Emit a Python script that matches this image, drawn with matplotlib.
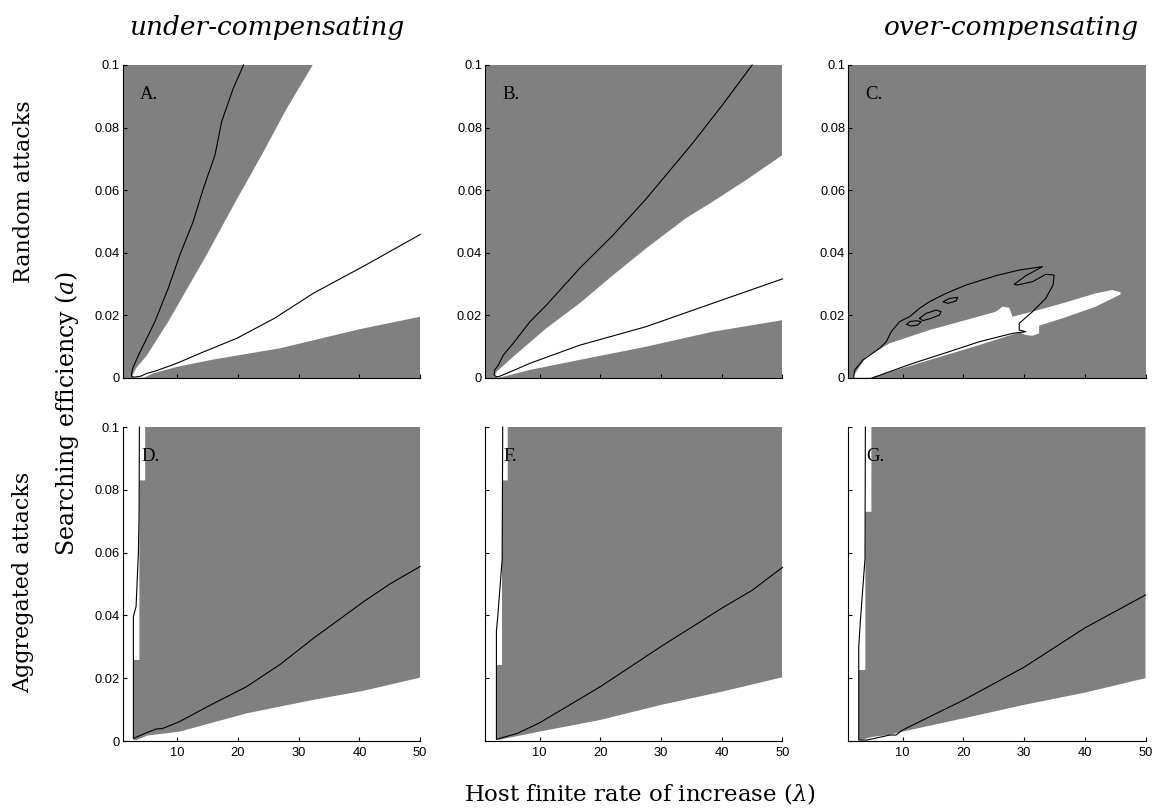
import matplotlib
matplotlib.use('Agg')
import matplotlib.pyplot as plt

plt.rcParams['mathtext.fontset'] = 'dejavuserif'

GRAY = '#808080'

# ---------------- data (lambda, a) ----------------
# Panel A: white region polygon (gray elsewhere) and black contour
A_white_lam = [2.5, 3.2, 5.0, 8.5, 14.8, 19.5, 23.9, 28.0, 32.3, 50.0, 50.0, 40.0, 26.9, 15.9, 10.0, 6.0, 4.5, 3.0]
A_white_a = [0.0003, 0.003, 0.0072, 0.0179, 0.0392, 0.056, 0.0712, 0.086, 0.1, 0.1, 0.0195, 0.0155, 0.0094, 0.0058, 0.0035, 0.0014, 0.0, 0.0]
A_line_lam = [20.9, 19.2, 17.3, 16.2, 14.3, 12.6, 10.4, 8.5, 6.3, 3.6, 2.65, 2.45, 2.5, 3.0, 4.0, 5.0, 6.5, 9.9, 14.0, 19.8, 26.0, 32.4, 41.0, 50.0]
A_line_a = [0.1, 0.0925, 0.0819, 0.0712, 0.0606, 0.0499, 0.0392, 0.0286, 0.0179, 0.0072, 0.003, 0.001, 0.0003, 0.0002, 0.0005, 0.0014, 0.0022, 0.0046, 0.0080, 0.0126, 0.019, 0.027, 0.036, 0.0458]

# Panel B
B_white_lam = [2.6, 2.9, 5.65, 11.1, 16.6, 22.1, 27.5, 34.1, 38.5, 44.0, 50.0, 50.0, 38.5, 27.5, 16.6, 8.4, 4.6, 3.2]
B_white_a = [0.0005, 0.0019, 0.0067, 0.0158, 0.0238, 0.0328, 0.0413, 0.051, 0.0563, 0.0632, 0.0712, 0.0184, 0.0147, 0.0099, 0.0057, 0.0025, 0.0006, 0.0]
B_line_lam = [45.0, 40.1, 35.2, 27.5, 22.1, 16.6, 11.1, 8.4, 5.65, 4.0, 3.2, 2.6, 2.5, 2.8, 3.2, 4.6, 8.4, 16.6, 27.5, 38.5, 50.0]
B_line_a = [0.1, 0.0872, 0.075, 0.0571, 0.0456, 0.035, 0.0232, 0.0179, 0.011, 0.0072, 0.004, 0.0025, 0.0009, 0.0004, 0.0003, 0.0014, 0.0046, 0.0104, 0.0163, 0.0238, 0.0316]

# Panel C
C_white_lam = [1.82, 4.01, 7.84, 14.41, 20.44, 25.36, 26.46, 27.55, 28.10, 31.39, 36.31, 41.79, 44.53, 45.89,
               45.89, 41.79, 36.31, 32.48, 32.48, 31.39, 30.29, 29.20, 22.63, 17.15, 11.68, 6.20, 4.56, 1.82]
C_white_a = [0.00032, 0.00672, 0.01098, 0.01524, 0.01844, 0.02111, 0.02271, 0.02239, 0.01951, 0.02111, 0.02377, 0.02697, 0.02804, 0.02729,
             0.02665, 0.02271, 0.01898, 0.01663, 0.01418, 0.01343, 0.01365, 0.01450, 0.01045, 0.00725, 0.00405, 0.00085, 0.0, 0.0]
C_line_lam = [1.93, 2.10, 3.46, 6.20, 7.30, 8.12, 9.49, 11.13, 12.77, 14.41, 17.15, 20.44, 25.36, 29.20, 33.03, 30.29, 28.37,
              28.92, 31.39, 33.58, 34.95, 34.78, 33.58, 31.39, 29.20, 29.20, 30.29, 28.10, 22.63, 17.15, 11.68, 7.84, 5.11]
C_line_a = [0.0, 0.00245, 0.00565, 0.00938, 0.01151, 0.01471, 0.01791, 0.01951, 0.02217, 0.02431, 0.02697, 0.02964, 0.03262, 0.03444, 0.03550, 0.03262, 0.02985,
            0.02964, 0.03070, 0.03305, 0.03284, 0.02964, 0.02537, 0.02111, 0.01738, 0.01524, 0.01471, 0.01418, 0.01151, 0.00800, 0.00458, 0.00192, 0.0]
C_loop1_lam = [10.69, 11.13, 12.22, 13.05, 12.50, 11.40, 10.69]
C_loop1_a = [0.01706, 0.01791, 0.01823, 0.01791, 0.01684, 0.01652, 0.01706]
C_loop2_lam = [12.77, 13.87, 15.51, 16.33, 16.06, 14.69, 13.32, 12.77]
C_loop2_a = [0.01898, 0.02058, 0.02164, 0.02111, 0.02004, 0.01898, 0.01823, 0.01898]
C_loop3_lam = [16.71, 17.70, 19.07, 18.79, 17.42, 16.71]
C_loop3_a = [0.02431, 0.02537, 0.02569, 0.02452, 0.02377, 0.02431]

# Panel D: gray region polygon (white elsewhere) and contour
D_gray_lam = [2.76, 3.3, 5.0, 10.4, 21.4, 32.4, 40.7, 50.0, 50.0, 4.7, 4.7, 3.75, 3.75, 2.76]
D_gray_a = [0.0003, 0.0003, 0.0017, 0.003, 0.0088, 0.0131, 0.016, 0.0202, 0.1, 0.1, 0.083, 0.083, 0.0258, 0.0258]
D_line_lam = [3.75, 3.69, 3.58, 3.2, 2.76, 2.76, 5.0, 6.5, 7.6, 10.4, 15.0, 21.4, 27.0, 32.4, 40.7, 45.0, 50.0]
D_line_a = [0.1, 0.0705, 0.0598, 0.0428, 0.0396, 0.0008, 0.0027, 0.0038, 0.0040, 0.0062, 0.011, 0.0173, 0.0245, 0.0327, 0.0444, 0.050, 0.0556]

# Panel F
F_gray_lam = [2.88, 3.5, 4.6, 10.0, 20.0, 30.0, 40.0, 50.0, 50.0, 4.74, 4.74, 3.8, 3.8, 2.88]
F_gray_a = [0.0003, 0.0004, 0.0009, 0.003, 0.0067, 0.0115, 0.0157, 0.0203, 0.1, 0.1, 0.083, 0.083, 0.0242, 0.0242]
F_line_lam = [3.92, 3.82, 3.1, 2.88, 2.88, 3.5, 6.3, 10.0, 20.0, 30.0, 40.0, 45.0, 50.0]
F_line_a = [0.1, 0.0577, 0.0396, 0.035, 0.0005, 0.0009, 0.0024, 0.0058, 0.0173, 0.0301, 0.0423, 0.048, 0.0553]

# Panel G
G_gray_lam = [2.77, 3.5, 5.0, 8.0, 10.0, 20.0, 30.0, 40.0, 50.0, 50.0, 4.85, 4.85, 3.86, 3.86, 2.77]
G_gray_a = [0.0003, 0.0005, 0.0013, 0.002, 0.003, 0.0072, 0.0115, 0.0154, 0.02, 0.1, 0.1, 0.073, 0.073, 0.0226, 0.0226]
G_line_lam = [3.86, 3.8, 3.05, 2.77, 2.77, 4.1, 7.9, 8.9, 10.0, 20.0, 30.0, 40.0, 50.0]
G_line_a = [0.1, 0.058, 0.0386, 0.03, 0.0003, 0.0003, 0.0019, 0.0019, 0.0035, 0.0130, 0.0235, 0.0360, 0.0465]

x_ticks = [10, 20, 30, 40, 50]
y_ticks = [0, 0.02, 0.04, 0.06, 0.08, 0.1]
y_tick_labels = ['0', '0.02', '0.04', '0.06', '0.08', '0.1']
panel_letters = ['A.', 'B.', 'C.', 'D.', 'F.', 'G.']
col_titles = ['under-compensating', 'over-compensating']
row_titles = ['Random attacks', 'Aggregated attacks']
x_label = 'Host finite rate of increase ($\\lambda$)'
y_label = 'Searching efficiency ($a$)'

# ---------------- figure ----------------
W, H = 1156, 810
fig = plt.figure(figsize=(W / 100, H / 100), dpi=100)

lefts = [122.7, 485.0, 848.0]
pw = 297.5
rows = [(65.0, 377.7), (427.0, 741.0)]

tick_font = dict(family='Liberation Sans', size=9.3)


def make_ax(col, row):
    l = lefts[col]
    t, b = rows[row]
    ax = fig.add_axes([l / W, 1 - b / H, pw / W, (b - t) / H])
    ax.set_xlim(1, 50)
    ax.set_ylim(0, 0.1)
    for s in ['top', 'right']:
        ax.spines[s].set_visible(False)
    for s in ['left', 'bottom']:
        ax.spines[s].set_linewidth(0.8)
        ax.spines[s].set_zorder(5)
    ax.set_xticks(x_ticks)
    ax.set_yticks(y_ticks)
    ax.tick_params(direction='in', length=3, width=0.8, pad=2)
    ax.tick_params(axis='x', pad=4)
    if row == 0:
        ax.set_xticklabels([])
    else:
        ax.set_xticklabels([str(v) for v in x_ticks], **tick_font)
    if row == 0 or col == 0:
        ax.set_yticklabels(y_tick_labels, **tick_font)
    else:
        ax.set_yticklabels([])
    ax.set_facecolor('white')
    return ax


LW = 0.8

# Top row
top_data = [
    (A_white_lam, A_white_a, [(A_line_lam, A_line_a)]),
    (B_white_lam, B_white_a, [(B_line_lam, B_line_a)]),
    (C_white_lam, C_white_a, [(C_line_lam, C_line_a), (C_loop1_lam, C_loop1_a),
                              (C_loop2_lam, C_loop2_a), (C_loop3_lam, C_loop3_a)]),
]
for i, (wl, wa, lines) in enumerate(top_data):
    ax = make_ax(i, 0)
    ax.fill_between([1, 50], 0, 0.1, color=GRAY, lw=0)
    ax.fill(wl, wa, color='white', lw=0)
    for ll, la in lines:
        ax.plot(ll, la, color='black', lw=LW, clip_on=False)
    ax.text(0.058, 0.905, panel_letters[i], transform=ax.transAxes,
            family='Liberation Serif', fontsize=13.5, va='center', ha='left')

# Bottom row
bot_data = [
    (D_gray_lam, D_gray_a, D_line_lam, D_line_a),
    (F_gray_lam, F_gray_a, F_line_lam, F_line_a),
    (G_gray_lam, G_gray_a, G_line_lam, G_line_a),
]
for i, (gl, ga, ll, la) in enumerate(bot_data):
    ax = make_ax(i, 1)
    ax.fill(gl, ga, color=GRAY, lw=0)
    ax.plot(ll, la, color='black', lw=LW, clip_on=False)
    ax.text(0.062, 0.905, panel_letters[3 + i], transform=ax.transAxes,
            family='Liberation Serif', fontsize=13.5, va='center', ha='left')

serif = 'DejaVu Serif'
fig.text(267 / W, 1 - 27 / H, col_titles[0], family=serif, style='italic',
         fontsize=19, ha='center', va='center')
fig.text(1011 / W, 1 - 27 / H, col_titles[1], family=serif, style='italic',
         fontsize=19, ha='center', va='center')
fig.text(24 / W, 1 - 192 / H, row_titles[0], family=serif, fontsize=16,
         rotation=90, ha='center', va='center')
fig.text(23 / W, 1 - 582 / H, row_titles[1], family=serif, fontsize=16,
         rotation=90, ha='center', va='center')
fig.text(67 / W, 1 - 413 / H, y_label, family=serif, fontsize=17,
         rotation=90, ha='center', va='center')
fig.text(640 / W, 1 - 793 / H, x_label, family=serif, fontsize=16.5,
         ha='center', va='center')

fig.savefig('out.png', dpi=100)
